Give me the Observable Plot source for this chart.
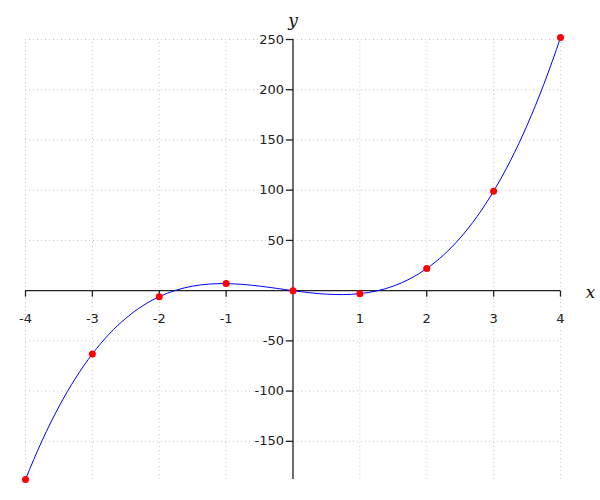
<!DOCTYPE html>
<html>
<head>
<meta charset="utf-8">
<script src="https://cdn.jsdelivr.net/npm/d3@7"></script>
<script src="https://cdn.jsdelivr.net/npm/@observablehq/plot@0.6"></script>
<style>
  html, body { margin: 0; padding: 0; background: #fff; }
  svg { display: block; }
</style>
</head>
<body>
<div id="chart"></div>
<script>
const xValues = [-4, -3, -2, -1, 0, 1, 2, 3, 4];
const yValues = [-188, -63, -6, 7, 0, -3, 22, 99, 252];
const xTicks = [-4, -3, -2, -1, 1, 2, 3, 4];
const yTicks = [-150, -100, -50, 50, 100, 150, 200, 250];
const xGrid = [-4, -3, -2, -1, 0, 1, 2, 3, 4];
const yGrid = [-150, -100, -50, 0, 50, 100, 150, 200, 250];
const xDomain = [-4, 4];
const yDomain = [-188, 252];

const points = xValues.map((x, i) => ({x, y: yValues[i]}));

// Cubic spline curve (not-a-knot end conditions) passing through every point
function curveNotAKnot(context) {
  let px = [], py = [];
  return {
    areaStart() {}, areaEnd() {},
    lineStart() { px = []; py = []; },
    point(x, y) { px.push(+x); py.push(+y); },
    lineEnd() {
      const n = px.length;
      if (n === 0) return;
      context.moveTo(px[0], py[0]);
      if (n < 4) { for (let i = 1; i < n; i++) context.lineTo(px[i], py[i]); return; }
      const h = [], d = [];
      for (let i = 0; i < n - 1; i++) { h.push(px[i + 1] - px[i]); d.push((py[i + 1] - py[i]) / h[i]); }
      const A = Array.from({length: n}, () => new Array(n).fill(0));
      const b = new Array(n).fill(0);
      A[0][0] = h[1]; A[0][1] = -(h[0] + h[1]); A[0][2] = h[0];
      for (let i = 1; i < n - 1; i++) {
        A[i][i - 1] = h[i - 1]; A[i][i] = 2 * (h[i - 1] + h[i]); A[i][i + 1] = h[i];
        b[i] = 6 * (d[i] - d[i - 1]);
      }
      A[n - 1][n - 3] = h[n - 2]; A[n - 1][n - 2] = -(h[n - 3] + h[n - 2]); A[n - 1][n - 1] = h[n - 3];
      // Gaussian elimination with partial pivoting
      for (let c = 0; c < n; c++) {
        let p = c;
        for (let r = c + 1; r < n; r++) if (Math.abs(A[r][c]) > Math.abs(A[p][c])) p = r;
        [A[c], A[p]] = [A[p], A[c]]; [b[c], b[p]] = [b[p], b[c]];
        for (let r = c + 1; r < n; r++) {
          const f = A[r][c] / A[c][c];
          if (!f) continue;
          for (let k = c; k < n; k++) A[r][k] -= f * A[c][k];
          b[r] -= f * b[c];
        }
      }
      const M = new Array(n).fill(0);
      for (let r = n - 1; r >= 0; r--) {
        let s = b[r];
        for (let k = r + 1; k < n; k++) s -= A[r][k] * M[k];
        M[r] = s / A[r][r];
      }
      for (let i = 0; i < n - 1; i++) {
        const s0 = d[i] - h[i] * (2 * M[i] + M[i + 1]) / 6;
        const s1 = d[i] + h[i] * (M[i] + 2 * M[i + 1]) / 6;
        context.bezierCurveTo(
          px[i] + h[i] / 3, py[i] + s0 * h[i] / 3,
          px[i + 1] - h[i] / 3, py[i + 1] - s1 * h[i] / 3,
          px[i + 1], py[i + 1]
        );
      }
    }
  };
}

const tickDown = {draw(ctx) { ctx.moveTo(0, 0); ctx.lineTo(0, 6); }};
const tickLeft = {draw(ctx) { ctx.moveTo(0, 0); ctx.lineTo(-7, 0); }};

const font = "DejaVu Sans, sans-serif";

const chart = Plot.plot({
  width: 600,
  height: 500,
  marginTop: 37,
  marginBottom: 21,
  marginLeft: 25,
  marginRight: 40,
  x: {domain: xDomain, axis: null},
  y: {domain: yDomain, axis: null},
  style: {fontFamily: font, background: "#fff"},
  marks: [
    Plot.ruleX(xGrid, {x: d => d, y1: yDomain[0], y2: yGrid[yGrid.length - 1], stroke: "#c8c8c8", strokeDasharray: "1,3", strokeWidth: 1}),
    Plot.ruleY(yGrid, {y: d => d, x1: xDomain[0], x2: xDomain[1], stroke: "#c8c8c8", strokeDasharray: "1,3", strokeWidth: 1}),
    Plot.ruleY([0], {x1: xDomain[0], x2: xDomain[1], stroke: "#222", strokeWidth: 1.3}),
    Plot.ruleX([0], {y1: yDomain[0], y2: yGrid[yGrid.length - 1], stroke: "#222", strokeWidth: 1.3}),
    Plot.dot(xTicks, {x: d => d, y: 0, symbol: tickDown, stroke: "#222", fill: "none", strokeWidth: 1.3}),
    Plot.dot(yTicks, {x: 0, y: d => d, symbol: tickLeft, stroke: "#222", fill: "none", strokeWidth: 1.3}),
    Plot.text(xTicks, {x: d => d, y: 0, text: d => String(d), dy: 28, fontSize: 13, fill: "#222"}),
    Plot.text(yTicks, {x: 0, y: d => d, text: d => String(d), dx: -9, textAnchor: "end", fontSize: 13, fill: "#222"}),
    Plot.line(points, {x: "x", y: "y", curve: curveNotAKnot, stroke: "blue", strokeWidth: 1}),
    Plot.dot(points, {x: "x", y: "y", r: 3.5, fill: "red", stroke: "none"}),
    Plot.text(["x"], {x: xDomain[1], y: 0, text: d => d, dx: 30, dy: 2, fontSize: 17, fontStyle: "italic", fontFamily: "DejaVu Serif, serif", fill: "#111"}),
    Plot.text(["y"], {x: 0, y: yGrid[yGrid.length - 1], text: d => d, dy: -19, fontSize: 17, fontStyle: "italic", fontFamily: "DejaVu Serif, serif", fill: "#111"})
  ]
});

document.getElementById("chart").appendChild(chart);
</script>
</body>
</html>
